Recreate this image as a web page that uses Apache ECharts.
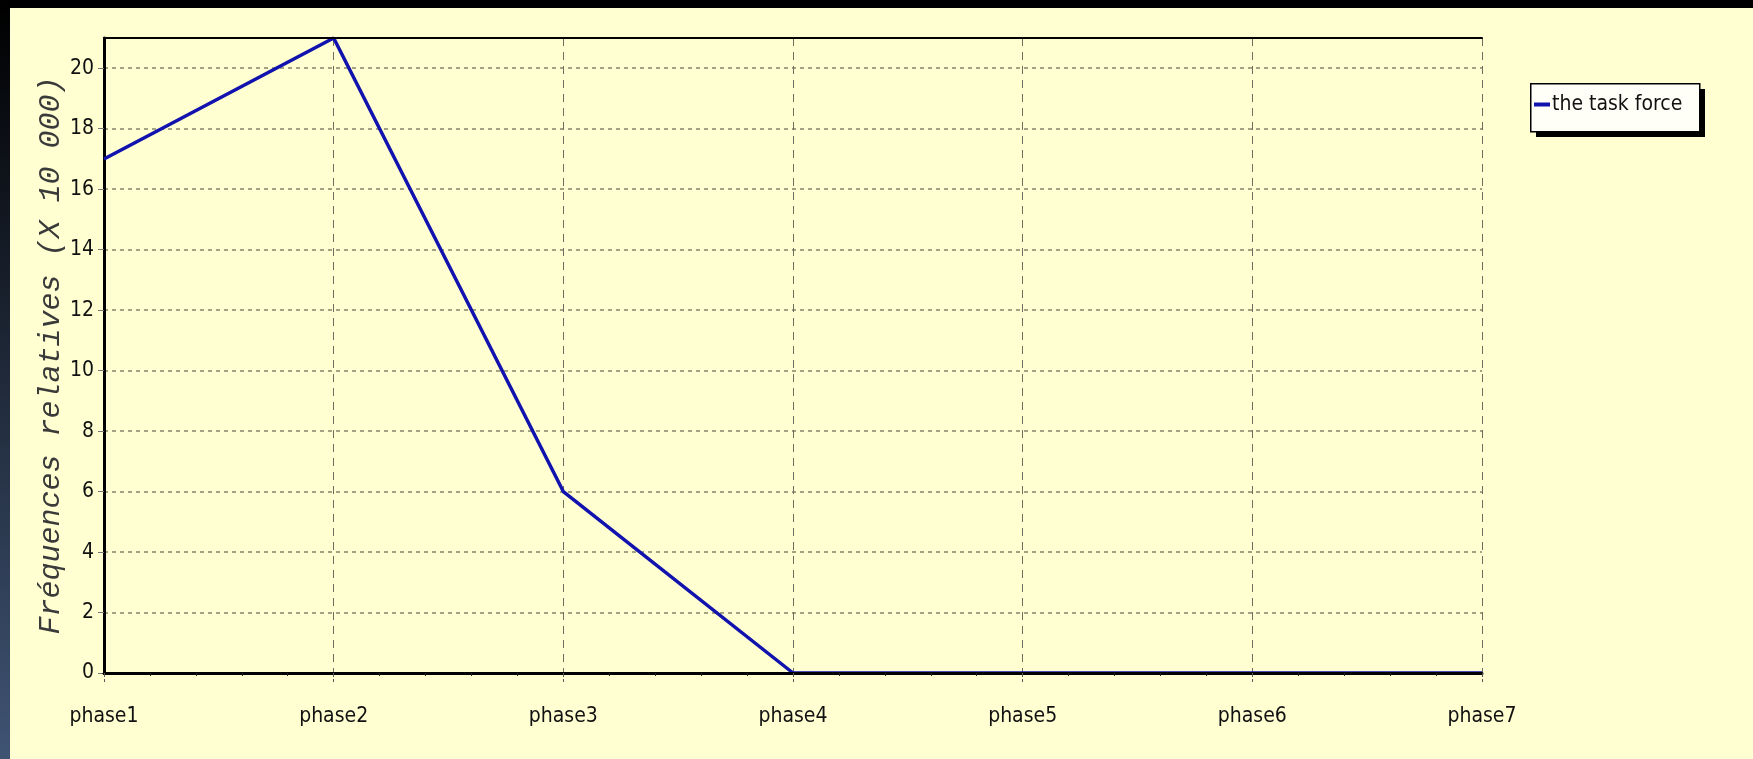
<!DOCTYPE html>
<html lang="fr">
<head>
    <meta charset="UTF-8">
    <title>the task force</title>
    <style>
        html, body { margin: 0; padding: 0; background: #000; }
        #chart { width: 1753px; height: 759px; }
    </style>
</head>
<body>
    <div id="chart"></div>
    <script src="https://cdn.jsdelivr.net/npm/echarts@6/dist/echarts.min.js"></script>
    <script>
        // données
        var phases = ['phase1', 'phase2', 'phase3', 'phase4', 'phase5', 'phase6', 'phase7'];
        var taskForce = [17, 21, 6, 0, 0, 0, 0];
        var seriesName = 'the task force';
        var yTitle = 'Fréquences relatives (X 10 000)';

        var narrow = "'DejaVu Sans Condensed', 'Liberation Sans Narrow', 'Arial Narrow', sans-serif";

        var myChart = echarts.init(document.getElementById('chart'));

        var option = {
            backgroundColor: '#FFFFD2',
            animation: false,
            graphic: [
                // bandeaux sombres en haut et à gauche
                { type: 'rect', left: 0, top: 0, shape: { width: 1753, height: 8 }, style: { fill: '#000' } },
                {
                    type: 'rect', left: 0, top: 0, shape: { width: 10, height: 759 },
                    style: {
                        fill: new echarts.graphic.LinearGradient(0, 0, 0, 1, [
                            { offset: 0, color: '#000000' },
                            { offset: 1, color: '#3F5373' }
                        ])
                    }
                },
                // cadre de la légende avec son ombre
                { type: 'rect', left: 1536, top: 89, z: 50, shape: { width: 169, height: 48 }, style: { fill: '#000' } },
                { type: 'rect', left: 1530, top: 83, z: 51, shape: { width: 169, height: 48 }, style: { fill: '#FFFFF8', stroke: '#000', lineWidth: 1.5 } }
            ],
            grid: { left: 104, top: 38, right: 271, bottom: 86 },
            legend: {
                data: [seriesName],
                left: 1534,
                top: 94,
                padding: 0,
                z: 60,
                itemWidth: 16,
                itemHeight: 4,
                icon: 'rect',
                textStyle: { fontFamily: narrow, fontSize: 21, color: '#111', padding: [0, 0, 0, -3] }
            },
            xAxis: [
                {
                    type: 'category',
                    data: phases,
                    boundaryGap: false,
                    axisLine: { show: false },
                    axisTick: { show: false },
                    axisLabel: { fontFamily: narrow, fontSize: 21, color: '#111', margin: 33 },
                    splitLine: { show: true, lineStyle: { color: '#6E6E60', type: [8, 6], width: 1 } }
                },
                {
                    // ligne d'axe épaisse avec petites graduations, par-dessus la courbe
                    type: 'value',
                    position: 'bottom',
                    min: 0, max: 6, interval: 1,
                    z: 10,
                    axisLine: { show: true, lineStyle: { color: '#000', width: 3 } },
                    axisTick: { show: true, length: 9, lineStyle: { color: '#555', type: [4, 2] } },
                    minorTick: { show: true, splitNumber: 5, length: 3, lineStyle: { color: '#222' } },
                    axisLabel: { show: false },
                    splitLine: { show: false }
                },
                {
                    type: 'value',
                    position: 'top',
                    min: 0, max: 6,
                    z: 10,
                    axisLine: { show: true, lineStyle: { color: '#000', width: 2 } },
                    axisTick: { show: false },
                    axisLabel: { show: false },
                    splitLine: { show: false }
                }
            ],
            yAxis: {
                type: 'value',
                min: 0,
                max: 21,
                interval: 2,
                name: yTitle,
                nameLocation: 'middle',
                nameRotate: 90,
                nameGap: 38,
                nameMoveOverlap: false,
                nameTextStyle: {
                    fontFamily: "'Liberation Mono', 'Courier New', monospace",
                    fontStyle: 'italic',
                    fontSize: 30,
                    color: '#3A3A3A'
                },
                axisLine: { show: true, lineStyle: { color: '#000', width: 3 } },
                axisTick: { show: true, length: 6, lineStyle: { color: '#777' } },
                axisLabel: { fontFamily: narrow, fontSize: 21, color: '#111', margin: 10, showMaxLabel: false },
                splitLine: { show: true, lineStyle: { color: '#85856A', type: [4, 4], width: 1.5 } }
            },
            series: [
                {
                    name: seriesName,
                    type: 'line',
                    data: taskForce,
                    showSymbol: false,
                    color: '#1212AE',
                    lineStyle: { width: 3.5, color: '#1212AE' }
                }
            ]
        };

        myChart.setOption(option);
    </script>
</body>
</html>
